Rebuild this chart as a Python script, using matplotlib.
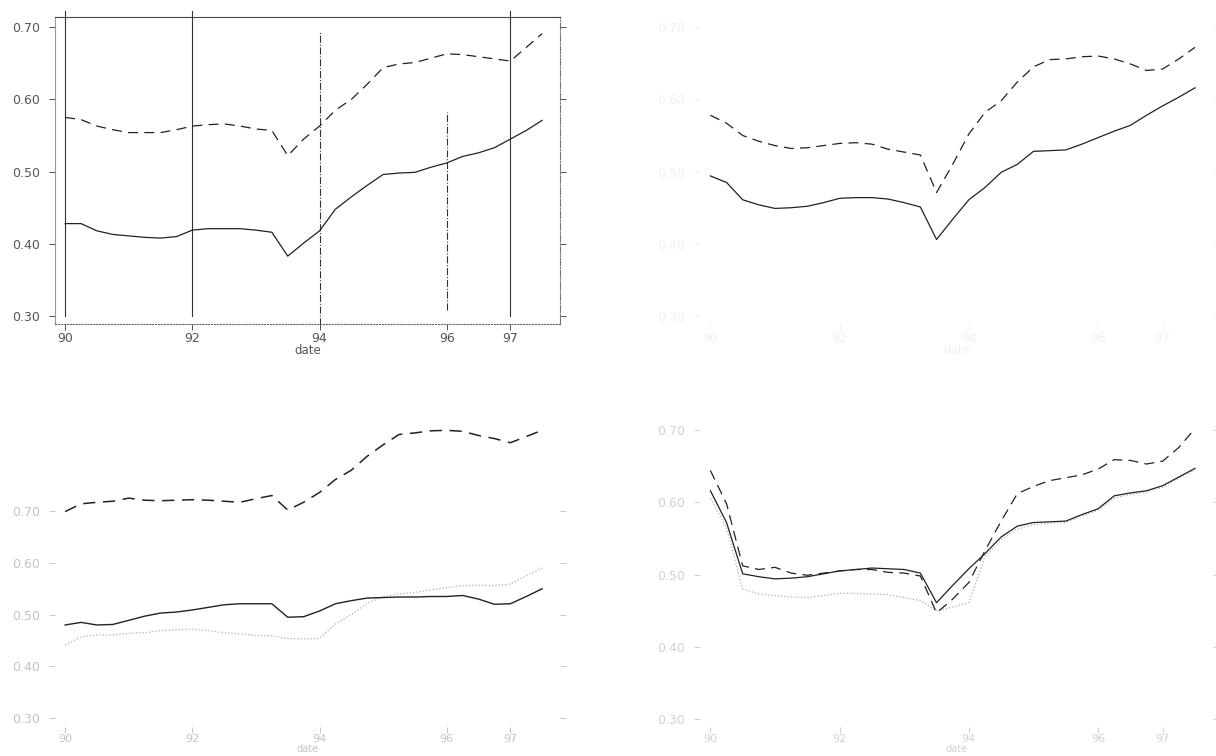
import matplotlib
matplotlib.use('Agg')
import matplotlib.pyplot as plt

# quarterly dates, 1990 to mid 1997
dates = [90.00, 90.25, 90.50, 90.75, 91.00, 91.25, 91.50, 91.75,
         92.00, 92.25, 92.50, 92.75, 93.00, 93.25, 93.50, 93.75,
         94.00, 94.25, 94.50, 94.75, 95.00, 95.25, 95.50, 95.75,
         96.00, 96.25, 96.50, 96.75, 97.00, 97.25, 97.50]

tl_upper = [0.575, 0.572, 0.563, 0.558, 0.554, 0.554, 0.554, 0.558, 0.563, 0.565,
            0.566, 0.563, 0.559, 0.557, 0.522, 0.545, 0.563, 0.585, 0.600, 0.621,
            0.644, 0.649, 0.651, 0.657, 0.663, 0.662, 0.659, 0.656, 0.653, 0.672, 0.691]
tl_lower = [0.428, 0.428, 0.418, 0.413, 0.411, 0.409, 0.408, 0.410, 0.419, 0.421,
            0.421, 0.421, 0.419, 0.416, 0.383, 0.401, 0.418, 0.448, 0.465, 0.481,
            0.496, 0.498, 0.499, 0.506, 0.512, 0.521, 0.526, 0.533, 0.545, 0.557, 0.571]

tr_upper = [0.578, 0.567, 0.550, 0.542, 0.536, 0.532, 0.533, 0.536, 0.539, 0.540,
            0.538, 0.531, 0.527, 0.523, 0.471, 0.510, 0.552, 0.582, 0.598, 0.624,
            0.645, 0.655, 0.656, 0.659, 0.660, 0.656, 0.649, 0.640, 0.642, 0.656, 0.672]
tr_lower = [0.494, 0.485, 0.461, 0.454, 0.449, 0.450, 0.452, 0.457, 0.463, 0.464,
            0.464, 0.462, 0.457, 0.451, 0.406, 0.434, 0.461, 0.478, 0.499, 0.510,
            0.528, 0.529, 0.530, 0.538, 0.547, 0.556, 0.564, 0.578, 0.591, 0.603, 0.616]

bl_upper = [0.699, 0.714, 0.717, 0.719, 0.725, 0.721, 0.720, 0.721, 0.722, 0.721,
            0.719, 0.717, 0.724, 0.730, 0.702, 0.717, 0.736, 0.761, 0.779, 0.806,
            0.828, 0.848, 0.851, 0.855, 0.856, 0.854, 0.846, 0.840, 0.832, 0.844, 0.856]
bl_lower = [0.480, 0.485, 0.480, 0.481, 0.489, 0.497, 0.503, 0.505, 0.509, 0.514,
            0.519, 0.521, 0.521, 0.521, 0.495, 0.496, 0.507, 0.521, 0.527, 0.532,
            0.533, 0.534, 0.534, 0.535, 0.535, 0.537, 0.530, 0.520, 0.521, 0.535, 0.550]
bl_third = [0.441, 0.457, 0.461, 0.461, 0.464, 0.465, 0.469, 0.471, 0.472, 0.469,
            0.465, 0.463, 0.460, 0.459, 0.454, 0.453, 0.454, 0.482, 0.500, 0.522,
            0.535, 0.540, 0.543, 0.548, 0.552, 0.556, 0.557, 0.556, 0.559, 0.575, 0.590]

br_upper = [0.644, 0.598, 0.512, 0.507, 0.510, 0.502, 0.499, 0.502, 0.505, 0.507,
            0.507, 0.503, 0.502, 0.498, 0.447, 0.466, 0.489, 0.533, 0.574, 0.612,
            0.622, 0.630, 0.634, 0.638, 0.646, 0.659, 0.658, 0.653, 0.657, 0.676, 0.702]
br_lower = [0.616, 0.572, 0.501, 0.497, 0.494, 0.495, 0.497, 0.501, 0.505, 0.507,
            0.509, 0.508, 0.507, 0.502, 0.461, 0.485, 0.508, 0.529, 0.552, 0.567,
            0.572, 0.573, 0.574, 0.583, 0.591, 0.609, 0.613, 0.616, 0.623, 0.635, 0.647]
br_third = [0.605, 0.565, 0.480, 0.473, 0.471, 0.469, 0.468, 0.471, 0.474, 0.474,
            0.473, 0.472, 0.468, 0.464, 0.450, 0.455, 0.461, 0.525, 0.548, 0.563,
            0.569, 0.571, 0.572, 0.581, 0.589, 0.606, 0.611, 0.614, 0.621, 0.633, 0.645]

year_ticks = [90, 92, 94, 96, 97]
year_labels = ['90', '92', '94', '96', '97']
y_ticks = [0.30, 0.40, 0.50, 0.60, 0.70]
y_labels = ['0.30', '0.40', '0.50', '0.60', '0.70']

# reference lines in the first panel: year, bottom, top
ref_years = [90, 92, 94, 96, 97]
ref_lo = [0.300, 0.300, 0.287, 0.309, 0.300]
ref_hi = [0.723, 0.723, 0.693, 0.582, 0.723]

DASH = (0, (8, 5))


def setup(ax, ylim, ink, spines=False, xsize=9, labelsize=8.5, labelpad=-1):
    ax.set_xlim(89.84, 97.78)
    ax.set_ylim(*ylim)
    ax.set_xticks(year_ticks)
    ax.set_xticklabels(year_labels)
    ax.set_yticks(y_ticks)
    ax.set_yticklabels(y_labels)
    ax.tick_params(axis='both', labelsize=9, colors=ink, length=4, width=0.7,
                   direction='out')
    ax.tick_params(axis='x', pad=2, labelsize=xsize)
    ax.tick_params(axis='y', right=True, pad=7)
    ax.set_xlabel('date', fontsize=labelsize, color=ink, labelpad=labelpad)
    for s in ax.spines.values():
        s.set_visible(spines)


fig = plt.figure(figsize=(12.16, 7.56), dpi=100)

# top left: framed panel with reference lines
ax1 = fig.add_axes([0.0452, 0.5714, 0.4153, 0.4061])
setup(ax1, (0.289, 0.714), '#555555', spines=True)
ax1.spines['top'].set_color('#444444')
ax1.spines['left'].set_color('#999999')
ax1.spines['bottom'].set_linestyle(':')
ax1.spines['bottom'].set_color('#666666')
ax1.spines['right'].set_linestyle('-.')
ax1.spines['right'].set_color('#777777')
for yr, lo, hi in zip(ref_years, ref_lo, ref_hi):
    ls = '-.' if yr in (94, 96) else '-'
    ax1.plot([yr, yr], [lo, hi], color='#333333', lw=0.8, ls=ls, clip_on=False)
ax1.plot(dates, tl_upper, color='#222222', lw=0.9, ls=DASH)
ax1.plot(dates, tl_lower, color='#222222', lw=0.9)

# top right: nearly no axes visible
ax2 = fig.add_axes([0.5757, 0.5714, 0.4219, 0.4061])
setup(ax2, (0.289, 0.714), '#f0f0f0')
ax2.plot(dates, tr_upper, color='#222222', lw=0.9, ls=DASH)
ax2.plot(dates, tr_lower, color='#222222', lw=0.9)

# bottom left
ax3 = fig.add_axes([0.0452, 0.0384, 0.4153, 0.4061])
setup(ax3, (0.283, 0.876), '#c4c4c4', xsize=8, labelsize=7, labelpad=0)
ax3.tick_params(axis='x', pad=1)
ax3.plot(dates, bl_third, color='#b0b0b0', lw=0.9, ls=':')
ax3.plot(dates, bl_upper, color='#222222', lw=1.1, ls=DASH)
ax3.plot(dates, bl_lower, color='#222222', lw=1.0)

# bottom right
ax4 = fig.add_axes([0.5757, 0.0384, 0.4219, 0.4061])
setup(ax4, (0.289, 0.714), '#d2d2d2', xsize=8, labelsize=7, labelpad=0)
ax4.tick_params(axis='x', pad=1)
ax4.plot(dates, br_third, color='#b0b0b0', lw=0.9, ls=':')
ax4.plot(dates, br_upper, color='#222222', lw=0.9, ls=DASH)
ax4.plot(dates, br_lower, color='#222222', lw=0.9)

fig.savefig('out.png', dpi=100, facecolor='white')
